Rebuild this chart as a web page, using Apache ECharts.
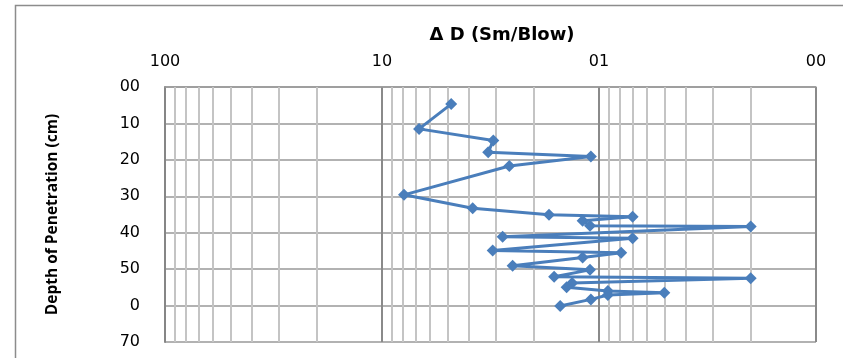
<!DOCTYPE html>
<html>
<head>
<meta charset="utf-8">
<script src="https://cdn.jsdelivr.net/npm/echarts@6/dist/echarts.min.js"></script>
<style>
  html, body { margin: 0; padding: 0; background: #fff; }
  #chart { width: 843px; height: 358px; }
</style>
</head>
<body>
<div id="chart"></div>
<script>
// Penetration record: ΔD per blow (log scale) against depth
const deltaD = [4.8, 6.75, 3.07, 3.24, 1.09, 2.59, 7.92, 3.82, 1.70, 0.70,
                1.19, 1.10, 0.20, 2.78, 0.70, 3.09, 0.79, 1.19, 2.50, 1.10,
                1.61, 0.20, 1.33, 1.41, 0.91, 0.50, 0.91, 1.09, 1.51];
const depth  = [4.7, 11.5, 14.7, 17.9, 19.1, 21.7, 29.6, 33.3, 35.1, 35.6,
                36.7, 38.1, 38.3, 41.1, 41.5, 44.9, 45.5, 46.8, 49.1, 50.2,
                52.1, 52.5, 53.8, 55.0, 56.0, 56.5, 57.1, 58.3, 60.1];

// Tick labels as printed on the axes
const xTickLabels = { "2": "100", "1": "10", "0": "01", "-1": "00" };
const yTickLabels = ["00", "10", "20", "30", "40", "50", "0", "70"];

// Intermediate log grid lines (2..9 within each decade)
const minorTicks = [20, 30, 40, 50, 60, 70, 80, 90,
                    2, 3, 4, 5, 6, 7, 8, 9,
                    0.2, 0.3, 0.4, 0.5, 0.6, 0.7, 0.8, 0.9];

const points = deltaD.map((v, i) => [v, depth[i]]);
const blue = '#4a7ebb';

const chart = echarts.init(document.getElementById('chart'));
chart.setOption({
  animation: false,
  backgroundColor: '#ffffff',
  graphic: [{
    type: 'rect',
    shape: { x: 15.5, y: 5.5, width: 900, height: 400 },
    style: { fill: 'none', stroke: '#8c8c8c', lineWidth: 1.5 },
    silent: true
  }],
  title: {
    text: 'Δ D (Sm/Blow)',
    left: 497, top: 21,
    textAlign: 'center',
    textStyle: { fontFamily: 'DejaVu Sans', fontWeight: 'bold', fontSize: 18, color: '#000' }
  },
  grid: { left: 165, right: 27, top: 87, bottom: 16 },
  xAxis: {
    type: 'log',
    logBase: 10,
    min: 0.1,
    max: 100,
    inverse: true,
    position: 'top',
    axisLine: { show: true, lineStyle: { color: '#999', width: 1.5 } },
    axisTick: { show: false },
    axisLabel: {
      margin: 17,
      fontFamily: 'DejaVu Sans', fontSize: 16, color: '#000',
      formatter: v => xTickLabels[String(Math.round(Math.log10(v)))] ?? ''
    },
    splitLine: { show: true, lineStyle: { color: '#8a8a8a', width: 2 } }
  },
  yAxis: {
    type: 'value',
    min: 0, max: 70, interval: 10,
    inverse: true,
    name: 'Depth of Penetration (cm)',
    nameLocation: 'middle',
    nameGap: 104,
    nameRotate: 90,
    nameTextStyle: { fontFamily: 'Open Sans', fontWeight: 'bold', fontSize: 15.5, color: '#000' },
    axisLine: { show: true, lineStyle: { color: '#868686', width: 2 } },
    axisTick: { show: false },
    axisLabel: {
      margin: 25,
      fontFamily: 'DejaVu Sans', fontSize: 16, color: '#000',
      formatter: v => yTickLabels[Math.round(v / 10)] ?? ''
    },
    splitLine: { show: true, lineStyle: { color: '#999', width: 1.5 } }
  },
  series: [
    {
      type: 'line',
      data: [],
      z: 1,
      silent: true,
      markLine: {
        silent: true,
        symbol: 'none',
        animation: false,
        label: { show: false },
        lineStyle: { type: 'solid', color: '#c4c4c4', width: 2 },
        emphasis: { disabled: true },
        data: minorTicks.map(v => ({ xAxis: v }))
      }
    },
    {
      type: 'line',
      data: points,
      z: 5,
      symbol: 'diamond',
      symbolSize: 12,
      lineStyle: { color: blue, width: 3 },
      itemStyle: { color: blue },
      emphasis: { disabled: true }
    }
  ]
});
</script>
</body>
</html>
